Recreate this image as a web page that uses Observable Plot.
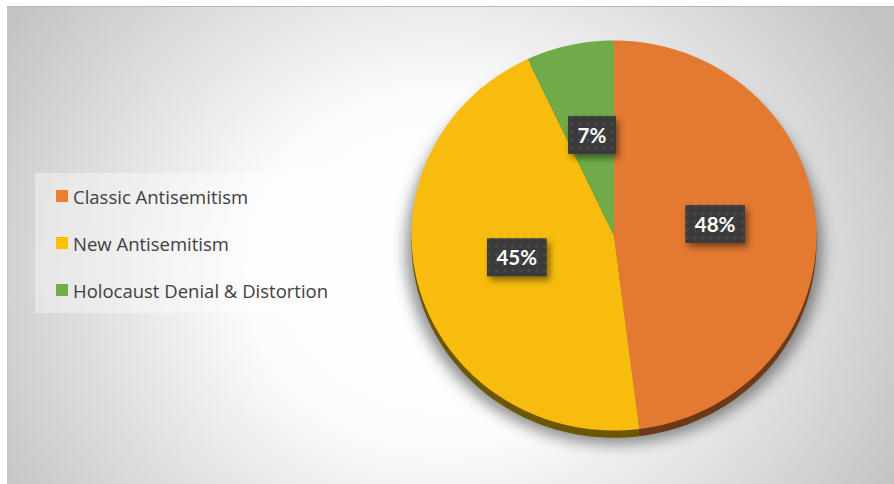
<!DOCTYPE html>
<html><head><meta charset="utf-8">
<script src="https://cdn.jsdelivr.net/npm/d3@7"></script>
<script src="https://cdn.jsdelivr.net/npm/@observablehq/plot@0.6"></script>
<style>
body{margin:0;background:#fff;}
#wrap{position:relative;width:894px;height:484px;overflow:hidden;}
#bg{position:absolute;left:7px;top:6px;right:0;bottom:0;border-top:1px solid #b8b8b8;border-left:1px solid #c6c6c6;
 background:radial-gradient(ellipse 58% 96% at 49% 55%, #ffffff 0%, #fcfcfc 38%, #c3c3c3 100%);}
#chart{position:absolute;left:0;top:0;}
#legendbox{position:absolute;left:35px;top:173px;width:315px;height:140px;background:rgba(255,255,255,0.38);}
.lg-swatches{font-family:"Open Sans",Lato,sans-serif !important;font-size:18.5px !important;color:#404040;margin:0 !important;padding:11px 0 0 21px;}
.lg-swatch{height:24px;margin-bottom:23px;padding-bottom:0 !important;}
.lg-swatch>svg{margin-right:5px !important;}
</style></head>
<body>
<div id="wrap"><div id="bg"></div><div id="legendbox"></div></div>
<script>
// ---- data ----
const categories = ["Classic Antisemitism", "New Antisemitism", "Holocaust Denial & Distortion"];
const values = [48, 45, 7];
const labels = ["48%", "45%", "7%"];
const colors = ["#ED7D31", "#FFC000", "#70AD47"];
const faceColors = ["#E47A32", "#F7BC0E", "#71AB49"];
const edgeColors = ["#6B3A18", "#6C5600", "#3E5E28"];

// ---- geometry from data ----
const arcs = d3.pie().sort(null).startAngle(0).endAngle(2 * Math.PI)(values);
const depth = 0.037, steps = 180;
function slicePoints(a, i, dy) {
  const pts = [{cat: categories[i], x: 0, y: dy}];
  const n = Math.max(2, Math.ceil(steps * (a.endAngle - a.startAngle) / (2 * Math.PI)));
  for (let k = 0; k <= n; k++) {
    const t = a.startAngle + (a.endAngle - a.startAngle) * k / n;
    pts.push({cat: categories[i], x: Math.sin(t), y: Math.cos(t) + dy});
  }
  return pts;
}
const faces = arcs.flatMap((a, i) => slicePoints(a, i, 0));
const edges = arcs.map((a, i) => slicePoints(a, i, -depth));
const shadow = d3.range(0, 361, 2).map(d => ({x: 1.03 * Math.sin(d * Math.PI / 180), y: Math.cos(d * Math.PI / 180) - 0.07}));
const labelPts = arcs.map((a, i) => {
  const m = (a.startAngle + a.endAngle) / 2;
  return {label: labels[i], x: 0.5 * Math.sin(m), y: 0.5 * Math.cos(m)};
});

const chart = Plot.plot({
  width: 894, height: 484,
  marginTop: 0, marginRight: 0, marginBottom: 0, marginLeft: 0,
  style: {background: "transparent", overflow: "visible"},
  x: {domain: [-1, 1], range: [411, 816], axis: null},
  y: {domain: [-1, 1], range: [430, 40], axis: null},
  color: {domain: categories, range: faceColors},
  marks: [
    Plot.line(shadow, {x: "x", y: "y", fill: "rgba(0,0,0,0.42)", stroke: "none"}),
    ...edges.map((pts, i) => Plot.line(pts, {x: "x", y: "y", fill: edgeColors[i], stroke: "none"})),
    Plot.line(faces, {x: "x", y: "y", z: "cat", fill: "cat", stroke: "none"}),
    Plot.text(labelPts, {x: "x", y: "y", text: "label", fill: "white", fontSize: 20.5, fontWeight: "bold", fontFamily: "Lato, 'Open Sans', sans-serif", dy: -4})
  ]
});
chart.id = "chart";
document.getElementById("wrap").appendChild(chart);

// post-styling: shadow blur, pattern label boxes
const svg = d3.select(chart);
const groups = svg.selectAll(":scope > g").nodes();
d3.select(groups[0]).style("filter", "blur(7px)");
const lblG = groups[groups.length - 1];
const defs = svg.insert("defs", ":first-child");
const pat = defs.append("pattern").attr("id", "dots").attr("width", 8).attr("height", 8).attr("patternUnits", "userSpaceOnUse");
pat.append("rect").attr("width", 8).attr("height", 8).attr("fill", "#3a3a3a");
pat.append("circle").attr("cx", 4).attr("cy", 4).attr("r", 1.6).attr("fill", "#4b4b4b");
const boxG = d3.select(chart.insertBefore(document.createElementNS("http://www.w3.org/2000/svg", "g"), lblG));
boxG.attr("transform", lblG.getAttribute("transform"));
d3.select(lblG).selectAll("text").each(function() {
  const b = this.getBBox();
  boxG.append("rect").attr("transform", this.getAttribute("transform"))
    .attr("x", b.x - 9.5).attr("y", b.y - 7).attr("width", b.width + 19).attr("height", b.height + 14)
    .attr("fill", "url(#dots)").style("filter", "drop-shadow(3px 4px 3px rgba(0,0,0,0.45))");
});

// legend via Plot
const legend = Plot.legend({
  color: {domain: categories, range: colors},
  legend: "swatches", columns: 1, swatchSize: 12, className: "lg"
});
document.getElementById("legendbox").appendChild(legend);
</script>
</body></html>
